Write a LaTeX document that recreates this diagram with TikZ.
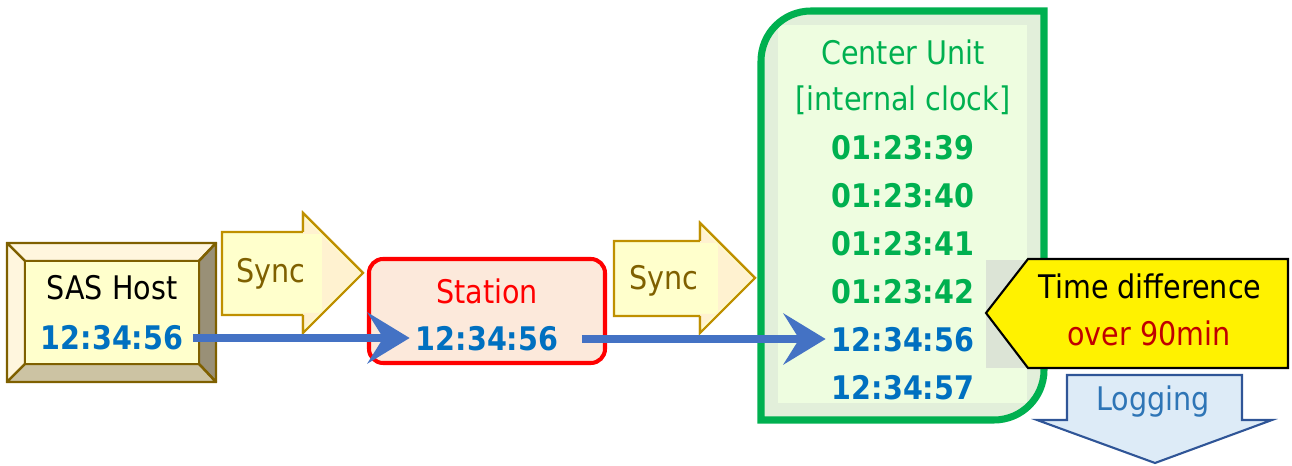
\documentclass[tikz,border=0pt]{standalone}
\usepackage{fontspec}
\setmainfont{DejaVu Sans}[FakeStretch=0.88]
\usepackage{xcolor}
\usepackage{tikz}
\usetikzlibrary{arrows.meta}
\definecolor{hostgold}{RGB}{127,96,0}
\definecolor{hostface}{RGB}{255,255,204}
\definecolor{hosttop}{RGB}{255,246,222}
\definecolor{hostright}{RGB}{153,144,119}
\definecolor{hostbottom}{RGB}{204,195,163}
\definecolor{syncedge}{RGB}{191,144,0}
\definecolor{synctext}{RGB}{127,96,0}
\definecolor{syncpale}{RGB}{255,242,208}
\definecolor{timeblue}{RGB}{0,112,192}
\definecolor{arrowblue}{RGB}{68,114,196}
\definecolor{stationfill}{RGB}{252,233,219}
\definecolor{unitgreen}{RGB}{0,176,80}
\definecolor{unitfill}{RGB}{226,239,218}
\definecolor{unitinner}{RGB}{238,253,224}
\definecolor{calloutgray}{RGB}{220,228,214}
\definecolor{alertred}{RGB}{192,0,0}
\definecolor{logfill}{RGB}{221,235,247}
\definecolor{logedge}{RGB}{47,85,151}
\definecolor{logtext}{RGB}{46,117,182}

\begin{document}
\begin{tikzpicture}[
    x=0.2mm, y=0.2mm,
    lbl/.style={font=\fontsize{18.5}{21}\selectfont},
    clk/.style={font=\fontsize{18.5}{21}\selectfont\bfseries},
    bevel/.style={draw=hostgold, line width=1.4pt, line join=round},
    syncarrow/.style={draw=syncedge, line width=1.2pt, fill=hostface},
    stationbox/.style={rectangle, draw=red, fill=stationfill, line width=2.3pt, rounded corners=8pt, minimum width=47.2mm, minimum height=20.8mm},
    arr/.style={-{Stealth[length=24pt, width=29pt, inset=9pt]}, line width=5pt, arrowblue}
]
\useasboundingbox (0,0) rectangle (1292,-466);

% SAS host (bevel box)
\draw[bevel, fill=hosttop] (7,-243) -- (216,-243) -- (199,-261) -- (25,-261) -- cycle;
\draw[bevel, fill=hosttop] (7,-243) -- (25,-261) -- (25,-364) -- (7,-382) -- cycle;
\draw[bevel, fill=hostright] (216,-243) -- (216,-382) -- (199,-364) -- (199,-261) -- cycle;
\draw[bevel, fill=hostbottom] (7,-382) -- (216,-382) -- (199,-364) -- (25,-364) -- cycle;
\draw[bevel, fill=hostface] (25,-261) rectangle (199,-364);
\node[lbl] (hostname) at (112,-288) {SAS Host};
\node[clk, text=timeblue] (hosttime) at (112,-338) {12:34:56};

% sync arrows
\draw[syncarrow] (222,-232) -- (303,-232) -- (303,-213) -- (363,-273) -- (303,-333) -- (303,-315) -- (222,-315) -- cycle;
\fill[syncpale] (322,-234) -- (303,-234) -- (303,-217) -- (360,-273) -- (303,-329) -- (303,-313) -- (322,-313) -- cycle;
\draw[syncedge, line width=1.2pt] (303,-232) -- (303,-213) -- (363,-273) -- (303,-333) -- (303,-315);
\node[lbl, text=synctext] (sync1) at (271,-274) {Sync};

\draw[syncarrow] (614,-241) -- (700,-241) -- (700,-223) -- (755,-278) -- (700,-333) -- (700,-316) -- (614,-316) -- cycle;
\fill[syncpale] (718,-243) -- (700,-243) -- (700,-227) -- (752,-278) -- (700,-329) -- (700,-314) -- (718,-314) -- cycle;
\draw[syncedge, line width=1.2pt] (700,-241) -- (700,-223) -- (755,-278) -- (700,-333) -- (700,-316);
\node[lbl, text=synctext] (sync2) at (664,-281) {Sync};

% station
\node[stationbox] (station) at (487,-311) {};
\node[lbl, text=red] (stname) at (487,-291) {Station};
\node[clk, text=timeblue] (sttime) at (487,-339) {12:34:56};

% center unit
\fill[unitfill] (761,-420) -- (761,-61) arc[start angle=180, end angle=90, radius=50] -- (1044,-11) -- (1044,-370) arc[start angle=0, end angle=-90, radius=50] -- cycle;
\fill[unitinner] (778,-25) rectangle (1027,-403);
\draw[unitgreen, line width=4pt] (761,-420) -- (761,-61) arc[start angle=180, end angle=90, radius=50] -- (1044,-11) -- (1044,-370) arc[start angle=0, end angle=-90, radius=50] -- cycle;
\node[lbl, text=unitgreen] (cuname) at (903,-52) {Center Unit};
\node[lbl, text=unitgreen] (cuclock) at (903,-100) {[internal clock]};
\node[clk, text=unitgreen] (cutime1) at (903,-148) {01:23:39};
\node[clk, text=unitgreen] (cutime2) at (903,-196) {01:23:40};
\node[clk, text=unitgreen] (cutime3) at (903,-244) {01:23:41};
\node[clk, text=unitgreen] (cutime4) at (903,-292) {01:23:42};
\node[clk, text=timeblue] (cutime5) at (903,-340) {12:34:56};
\node[clk, text=timeblue] (cutime6) at (903,-388) {12:34:57};

% time flow
\draw[arr, shorten <=2pt] (hosttime.east) -- (hosttime.east -| sttime.west);
\draw[arr, shorten <=10pt] (sttime.east) -- (sttime.east -| cutime5.west);

% callout
\fill[calloutgray] (986,-260) rectangle (1040,-368);
\draw[black, line width=1.2pt, fill=yellow, line join=miter] (986,-313) -- (1028,-259) -- (1288,-259) -- (1288,-368) -- (1028,-368) -- cycle;
\node[lbl] (diffhead) at (1150,-286) {Time difference};
\node[lbl, text=alertred] (diffval) at (1149,-333) {over 90min};

% logging
\draw[logedge, fill=logfill, line width=1.2pt] (1067,-375) -- (1242,-375) -- (1242,-420) -- (1272,-420) -- (1155,-463) -- (1037,-420) -- (1067,-420) -- cycle;
\node[lbl, text=logtext] (logging) at (1153,-402) {Logging};
\end{tikzpicture}
\end{document}
